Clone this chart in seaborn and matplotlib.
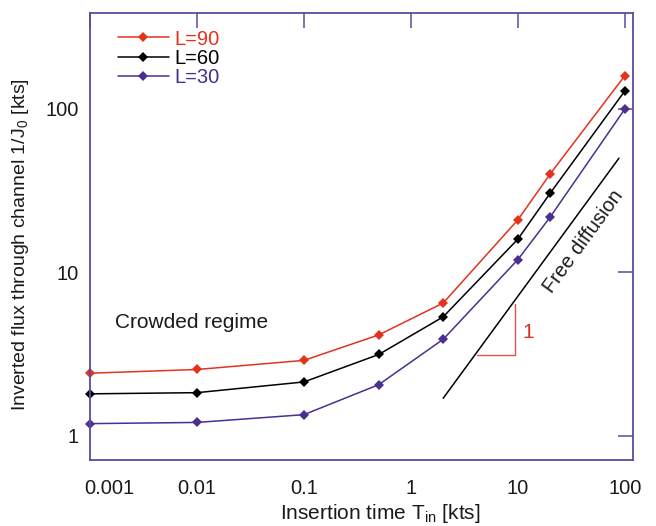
import numpy as np
import pandas as pd
import matplotlib
matplotlib.use('Agg')
import matplotlib.pyplot as plt
import matplotlib.transforms as mtransforms
import seaborn as sns

# valeurs
T_in = [0.001, 0.01, 0.1, 0.5, 2, 10, 20, 100]
flux_L90 = [2.42, 2.55, 2.9, 4.15, 6.5, 21.0, 40.0, 160.0]
flux_L60 = [1.81, 1.84, 2.14, 3.15, 5.35, 16.0, 30.5, 129.0]
flux_L30 = [1.19, 1.21, 1.35, 2.06, 3.9, 12.0, 21.8, 100.0]
labels = ['L=90', 'L=60', 'L=30']
colors = ['#e5321c', '#000000', '#4b2e8e']

# droite de diffusion libre + triangle de pente
free_x = [2.0, 88.0]
free_y = [1.7, 50.0]
tri_x = [4.1, 9.4, 9.4]
tri_y = [3.14, 3.14, 6.45]

x_ticks = [0.001, 0.01, 0.1, 1, 10, 100]
x_ticklabels = ['0.001', '0.01', '0.1', '1', '10', '100']
y_ticks = [1, 10, 100]
y_ticklabels = ['1', '10', '100']

sns.set_theme(style='white')
plt.rcParams['font.family'] = ['Liberation Sans', 'DejaVu Sans']
plt.rcParams['mathtext.fontset'] = 'custom'
plt.rcParams['mathtext.rm'] = 'Liberation Sans'
plt.rcParams['mathtext.it'] = 'Liberation Sans:italic'

spine_col = '#5a4c9c'
txt_col = '#1a1a1a'

df = pd.DataFrame({
    'T': T_in * 3,
    'flux': flux_L90 + flux_L60 + flux_L30,
    'L': [labels[0]] * len(T_in) + [labels[1]] * len(T_in) + [labels[2]] * len(T_in),
})

fig = plt.figure(figsize=(6.56, 5.26), dpi=100)
ax = fig.add_axes([90 / 656, 1 - 460 / 526, 543 / 656, 447 / 526])

sns.lineplot(data=df, x='T', y='flux', hue='L', palette=dict(zip(labels, colors)),
             marker='D', markersize=5.6, markeredgewidth=0, linewidth=1.1,
             ax=ax, legend=False, clip_on=False)

ax.set_xscale('log')
ax.set_yscale('log')
ax.set_xlim(0.001, 119)
ax.set_ylim(0.713, 386)

# légende avec texte coloré
handles = [plt.Line2D([], [], color=c, marker='D', markersize=5.6, markeredgewidth=0, linewidth=1.1)
           for c in colors]
leg = ax.legend(handles, labels, loc='upper left', bbox_to_anchor=(0.052, 0.963),
                frameon=False, fontsize=14.5, handlelength=2.5, handletextpad=0.3,
                labelspacing=0.02, borderpad=0, borderaxespad=0)
for txt, c in zip(leg.get_texts(), colors):
    txt.set_color(c)

# diffusion libre
sns.lineplot(x=free_x, y=free_y, color='black', linewidth=1.1, ax=ax)
ax.plot(tri_x, tri_y, color='#d9534f', linewidth=1.0)
ax.text(12.4, 4.3, '1', color='#d9312a', fontsize=15, ha='center', va='center')
ax.text(41, 15.4, 'Free diffusion', rotation=54, fontsize=14.5, color=txt_col,
        ha='center', va='center', rotation_mode='anchor')
ax.text(0.0017, 4.95, 'Crowded regime', fontsize=15, color=txt_col, ha='left', va='center')

ax.set_xticks(x_ticks)
ax.set_xticklabels(x_ticklabels)
ax.set_yticks(y_ticks)
ax.set_yticklabels(y_ticklabels)
ax.minorticks_off()
ax.tick_params(which='major', direction='in', length=11, width=1.1, color=spine_col,
               top=True, right=True, labelsize=14.5, labelcolor=txt_col)
ax.tick_params(axis='x', pad=14)
ax.tick_params(axis='y', pad=8)
# décaler l'étiquette 0.001 vers la droite
lab0 = ax.get_xticklabels()[0]
lab0.set_transform(lab0.get_transform() + mtransforms.ScaledTranslation(0.19, 0, fig.dpi_scale_trans))

for sp in ax.spines.values():
    sp.set_color(spine_col)
    sp.set_linewidth(1.3)

ax.set_xlabel(r'Insertion time T$_{\mathregular{in}}$ [kts]', fontsize=15, color=txt_col)
ax.set_ylabel(r'Inverted flux through channel 1/J$_{\mathregular{0}}$ [kts]', fontsize=14,
              color=txt_col)
ax.xaxis.set_label_coords(0.534, -0.095)
ax.yaxis.set_label_coords(-0.108, 0.483)

fig.savefig('out.png', dpi=100)
